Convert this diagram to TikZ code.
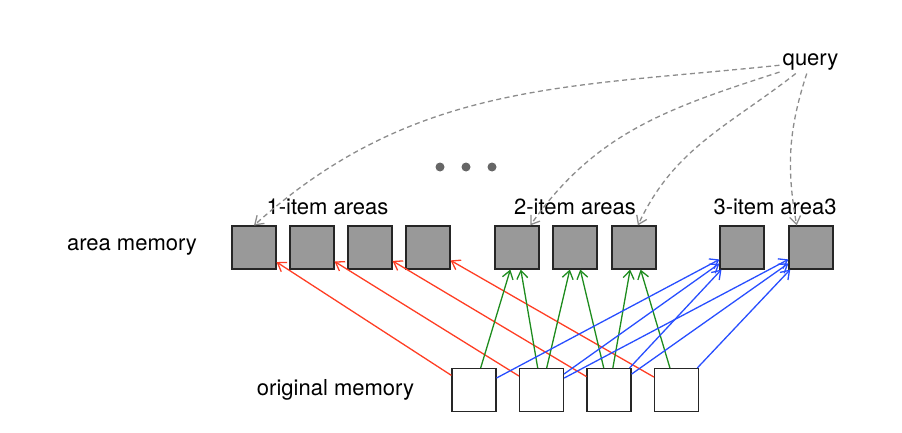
\documentclass[tikz,border=0pt]{standalone}
\usepackage{fontspec}
\setmainfont{TeX Gyre Heros}
\usetikzlibrary{arrows.meta}
\definecolor{doCam}{RGB}{255,62,36}
\definecolor{xanhLa}{RGB}{30,140,30}
\definecolor{xanhDuong}{RGB}{40,78,255}
\begin{document}
\begin{tikzpicture}[x=1pt, y=1pt, >={Straight Barb[length=8pt,width=11pt]},
    vung/.style={draw=black!85, fill=black!40, line width=1.1pt,
        minimum width=44pt, minimum height=43pt, inner sep=0pt},
    goc/.style={vung, fill=white},
    chu/.style={font=\fontsize{22}{26}\selectfont, inner sep=3pt},
    noi/.style={->, line width=1.3pt},
    hoi/.style={->, dashed, dash pattern=on 5pt off 3.5pt, black!45, line width=1.3pt}]
    % 1. Khung hình
    \useasboundingbox (0,0) rectangle (902,432);

    % 2. Hàng area memory và original memory
    \foreach \i/\x in {1/254,2/312,3/370,4/428,5/517,6/575,7/634,8/742,9/811}
        \node[vung] (a\i) at (\x,184.5) {};
    \foreach \i/\x in {1/474,2/541.5,3/609,4/676.5}
        \node[goc] (o\i) at (\x,42) {};

    % 3. Nhãn
    \node[chu] (tenA) at (132,185) {area memory};
    \node[chu] (tenO) at (335.5,42) {original memory};
    \node[chu] (nhom1) at (327.5,225) {1-item areas};
    \node[chu] (nhom2) at (575,225) {2-item areas};
    \node[chu] (nhom3) at (775,225) {3-item area3};
    \node[chu] (query) at (810.5,370) {query};

    % 4. Dấu ba chấm
    \foreach \x in {440,466,492}
        \fill[black!60] (\x,265) circle (4.5);

    % 5. Mũi tên từ original memory lên area memory
    \foreach \i in {1,...,4}
        \draw[noi, doCam] (o\i) -- (a\i);
    \foreach \s/\t in {1/5,2/5,2/6,3/6,3/7,4/7}
        \draw[noi, xanhLa] (o\s) -- (a\t);
    \foreach \s/\t in {1/8,2/8,3/8,2/9,3/9,4/9}
        \draw[noi, xanhDuong] (o\s) -- (a\t);

    % 6. Đường nét đứt từ query
    \draw[hoi] (query) to[out=186, in=42] (a1.north);
    \draw[hoi] (query) to[out=198, in=55] (a5.59);
    \draw[hoi] (query) to[out=218, in=65] (a7.80);
    \draw[hoi] (query) to[out=252, in=100] (a9.123);
\end{tikzpicture}
\end{document}
